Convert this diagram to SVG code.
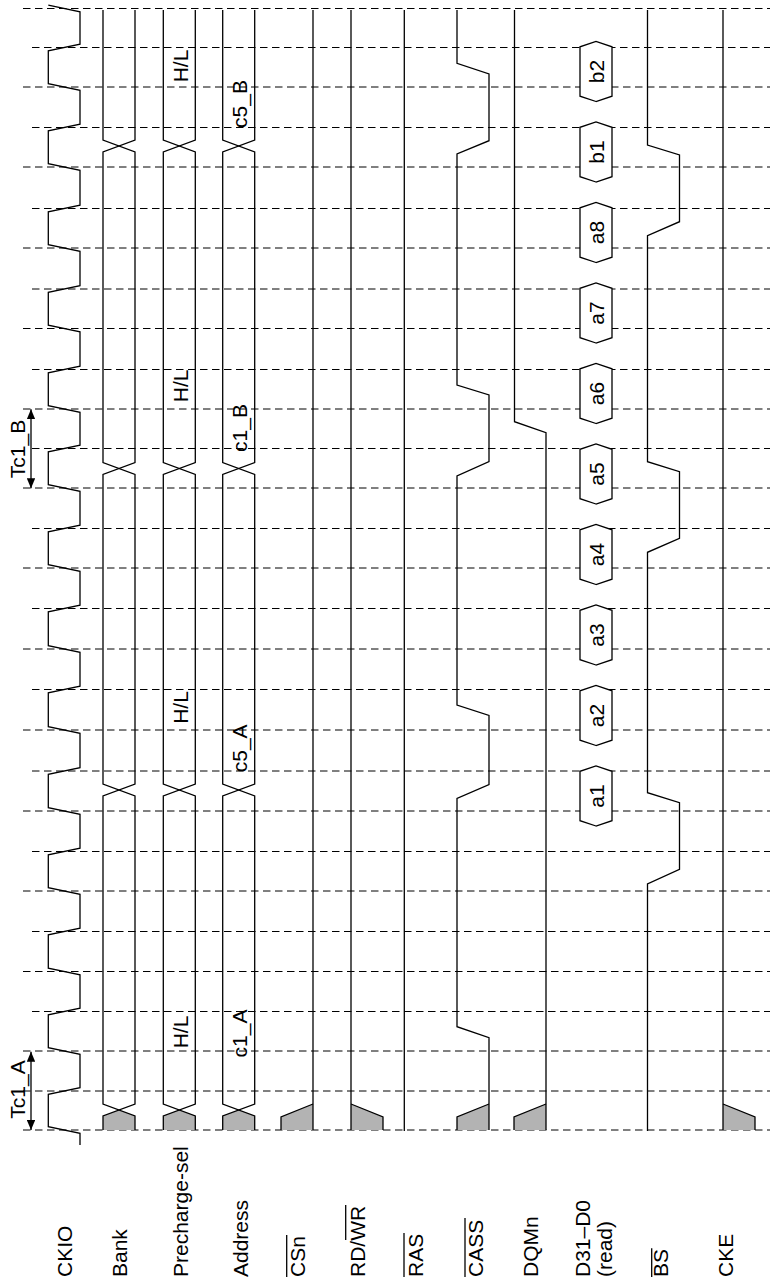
<svg xmlns="http://www.w3.org/2000/svg" xmlns:xlink="http://www.w3.org/1999/xlink" width="770" height="1281" viewBox="0 0 770 1281">
<style>
.sig{fill:none;stroke:#000;stroke-width:1.3;stroke-linejoin:miter}
.grid{fill:none;stroke:#000;stroke-width:1;stroke-dasharray:7.5 4.5}
.x{fill:#b3b3b3;stroke:none}
.lbl{font-family:"Liberation Sans",Arial,Helvetica,sans-serif;font-size:21px;fill:#000}
.mid{text-anchor:middle}
.ol{stroke:#000;stroke-width:1.3}
.hex{fill:#fff;stroke:#000;stroke-width:1.3}
.arr{stroke:#000;stroke-width:1.3;fill:none}
</style>
<defs>
<marker id="ah" viewBox="0 0 10 8.4" refX="10" refY="4.2" markerWidth="10" markerHeight="8.4" markerUnits="userSpaceOnUse" orient="auto-start-reverse"><path d="M0,0 L10,4.2 L0,8.4 Z" fill="#000"/></marker>
<g id="bus">
<path class="x" d="M151,0 L165,0 L171,16 L165,32 L151,32 Z"/>
<path class="sig" d="M151,0 L165,0 L177,32 L485,32 L497,0 L806.5,0 L818.5,32 L1129,32 L1141,0 L1271,0"/>
<path class="sig" d="M151,32 L165,32 L177,0 L485,0 L497,32 L806.5,32 L818.5,0 L1129,0 L1141,32 L1271,32"/>
</g>
<g id="toLow">
<path class="x" d="M151,0 L164,0 L177,32 L151,32 Z"/>
<path class="sig" d="M151,0 L164,0 L177,32"/>
</g>
<g id="toHigh">
<path class="x" d="M151,0 L177,0 L164,32 L151,32 Z"/>
<path class="sig" d="M151,32 L164,32 L177,0"/>
</g>
<path id="hexshape" class="hex" d="M-30,16 L-24.7,0 L24.7,0 L30,16 L24.7,32 L-24.7,32 Z"/>
</defs>
<g transform="matrix(0,-1,1,0,0,1281)">
<g id="grid">
<path class="grid" d="M151,23V770 M190,23V770 M230,23V770 M269.5,32V770 M309.5,23V770 M349.5,32V770 M390,23V770 M429.5,32V770 M470,23V770 M510,32V770 M551,23V770 M591.5,32V770 M632,23V770 M672.5,32V770 M713,23V770 M752.5,32V770 M793,23V770 M832.5,32V770 M872,23V770 M911.5,32V770 M952.5,23V770 M992,32V770 M1033,23V770 M1072.5,32V770 M1114,23V770 M1153.5,32V770 M1194,23V770 M1233.5,32V770 M1272.5,23V770"/>
</g>
<g id="labels">
<text class="lbl" x="4" y="72">CKIO</text>
<text class="lbl" x="4" y="127">Bank</text>
<text class="lbl" x="4" y="188">Precharge-sel</text>
<text class="lbl" x="4" y="248">Address</text>
<text class="lbl" x="4" y="305">CSn</text>
<line class="ol" x1="4" y1="286.7" x2="46" y2="286.7"/>
<text class="lbl" x="4" y="365">RD/WR</text>
<line class="ol" x1="41" y1="345.7" x2="76" y2="345.7"/>
<text class="lbl" x="4" y="423">RAS</text>
<line class="ol" x1="4" y1="404" x2="48" y2="404"/>
<text class="lbl" x="4" y="483">CASS</text>
<line class="ol" x1="4" y1="465" x2="63" y2="465"/>
<text class="lbl" x="4" y="538">DQMn</text>
<text class="lbl" x="4" y="590">D31–D0</text>
<text class="lbl" x="4" y="612">(read)</text>
<text class="lbl" x="4" y="668">BS</text>
<line class="ol" x1="4" y1="651.7" x2="32.7" y2="651.7"/>
<text class="lbl" x="4" y="733">CKE</text>
</g>
<g id="ckio">
<path class="sig" d="M136,80 L147.7,80 L154.3,48.3 L186.7,48.3 L193.3,80 L226.7,80 L233.3,48.3 L266.2,48.3 L272.8,80 L306.2,80 L312.8,48.3 L346.2,48.3 L352.8,80 L386.7,80 L393.3,48.3 L426.2,48.3 L432.8,80 L466.7,80 L473.3,48.3 L506.7,48.3 L513.3,80 L547.7,80 L554.3,48.3 L588.2,48.3 L594.8,80 L628.7,80 L635.3,48.3 L669.2,48.3 L675.8,80 L709.7,80 L716.3,48.3 L749.2,48.3 L755.8,80 L789.7,80 L796.3,48.3 L829.2,48.3 L835.8,80 L868.7,80 L875.3,48.3 L908.2,48.3 L914.8,80 L949.2,80 L955.8,48.3 L988.7,48.3 L995.3,80 L1029.7,80 L1036.3,48.3 L1069.2,48.3 L1075.8,80 L1110.7,80 L1117.3,48.3 L1150.2,48.3 L1156.8,80 L1190.7,80 L1197.3,48.3 L1230.2,48.3 L1236.8,80 L1269.2,80 L1275.8,48.3"/>
</g>
<g id="tc1a">
<line class="arr" x1="151" y1="31" x2="229.3" y2="31" marker-start="url(#ah)" marker-end="url(#ah)"/>
<text class="lbl mid" x="191.5" y="25">Tc1_A</text>
</g>
<g id="tc1b">
<line class="arr" x1="792.7" y1="31" x2="871.7" y2="31" marker-start="url(#ah)" marker-end="url(#ah)"/>
<text class="lbl mid" x="832" y="25">Tc1_B</text>
</g>
<g id="bank">
<use xlink:href="#bus" href="#bus" transform="translate(0,103)"/>
</g>
<g id="precharge-sel">
<use xlink:href="#bus" href="#bus" transform="translate(0,163.3)"/>
<text class="lbl mid" x="249" y="188">H/L</text>
<text class="lbl mid" x="573.5" y="188">H/L</text>
<text class="lbl mid" x="895.2" y="188">H/L</text>
<text class="lbl mid" x="1215" y="188">H/L</text>
</g>
<g id="address">
<use xlink:href="#bus" href="#bus" transform="translate(0,222.7)"/>
<text class="lbl mid" x="247.5" y="247">c1_A</text>
<text class="lbl mid" x="532.7" y="247">c5_A</text>
<text class="lbl mid" x="853" y="247">c1_B</text>
<text class="lbl mid" x="1177" y="247">c5_B</text>
</g>
<g id="csn">
<use xlink:href="#toLow" href="#toLow" transform="translate(0,281)"/>
<path class="sig" d="M151,313 L1271,313"/>
</g>
<g id="rdwr">
<use xlink:href="#toHigh" href="#toHigh" transform="translate(0,351)"/>
<path class="sig" d="M151,351 L1271,351"/>
</g>
<g id="ras">
<path class="sig" d="M150,404.3 L1271,404.3"/>
</g>
<g id="cass">
<use xlink:href="#toLow" href="#toLow" transform="translate(0,457)"/>
<path class="sig" d="M151,489 L243.3,489 L254.3,457 L482.5,457 L496.5,489 L565.5,489 L576,457 L805,457 L819.3,489 L886,489 L896,457 L1127,457 L1140.3,489 L1207,489 L1217.7,457 L1271,457"/>
</g>
<g id="dqmn">
<use xlink:href="#toLow" href="#toLow" transform="translate(0,514)"/>
<path class="sig" d="M151,546 L848.3,546 L859.3,514.5 L1271,514.5"/>
</g>
<g id="data">
<use xlink:href="#hexshape" href="#hexshape" transform="translate(485,580)"/>
<use xlink:href="#hexshape" href="#hexshape" transform="translate(565.5,580)"/>
<use xlink:href="#hexshape" href="#hexshape" transform="translate(646,580)"/>
<use xlink:href="#hexshape" href="#hexshape" transform="translate(726.5,580)"/>
<use xlink:href="#hexshape" href="#hexshape" transform="translate(807,580)"/>
<use xlink:href="#hexshape" href="#hexshape" transform="translate(887.5,580)"/>
<use xlink:href="#hexshape" href="#hexshape" transform="translate(968,580)"/>
<use xlink:href="#hexshape" href="#hexshape" transform="translate(1048.5,580)"/>
<use xlink:href="#hexshape" href="#hexshape" transform="translate(1129,580)"/>
<use xlink:href="#hexshape" href="#hexshape" transform="translate(1209.5,580)"/>
<text class="lbl mid" x="485" y="603.5">a1</text>
<text class="lbl mid" x="565.5" y="603.5">a2</text>
<text class="lbl mid" x="646" y="603.5">a3</text>
<text class="lbl mid" x="726.5" y="603.5">a4</text>
<text class="lbl mid" x="807" y="603.5">a5</text>
<text class="lbl mid" x="887.5" y="603.5">a6</text>
<text class="lbl mid" x="968" y="603.5">a7</text>
<text class="lbl mid" x="1048.5" y="603.5">a8</text>
<text class="lbl mid" x="1129" y="603.5">b1</text>
<text class="lbl mid" x="1209.5" y="603.5">b2</text>
</g>
<g id="bs">
<path class="sig" d="M150,647.5 L397,647.5 L411.7,679.5 L478.3,679.5 L488.3,647.5 L728.7,647.5 L742.7,679.5 L809.3,679.5 L819.3,647.5 L1045.3,647.5 L1059.3,679.5 L1126,679.5 L1136,647.5 L1271,647.5"/>
</g>
<g id="cke">
<use xlink:href="#toHigh" href="#toHigh" transform="translate(0,723)"/>
<path class="sig" d="M151,723 L1271,723"/>
</g>
</g>
</svg>
